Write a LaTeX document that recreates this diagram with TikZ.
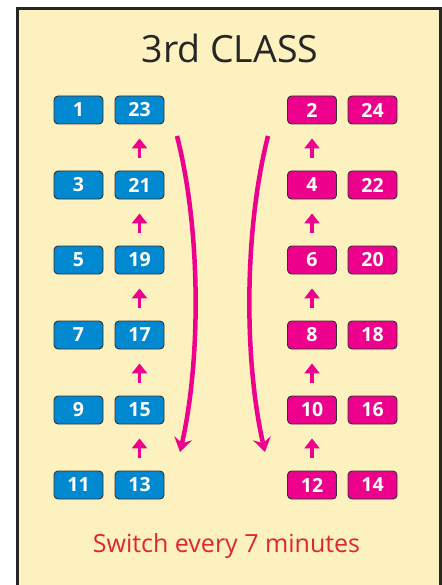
\documentclass[tikz,border=0pt]{standalone}
\usepackage{fontspec}
\setmainfont{Open Sans}
\usepackage{tikz}
\usetikzlibrary{arrows.meta,positioning,calc}
\usepackage{xcolor}
\definecolor{seatblue}{HTML}{0089D0}
\definecolor{seatpink}{HTML}{EC008C}
\definecolor{paper}{HTML}{FEF1C0}
\definecolor{notered}{HTML}{E0262F}

\begin{document}
\begin{tikzpicture}[x=1pt,y=-1pt,
  seat/.style={draw=black!80,line width=0.9pt,rounded corners=4pt,minimum width=49pt,minimum height=28pt,inner sep=0pt,text=white,font=\fontsize{19.5}{19.5}\selectfont\bfseries},
  blueseat/.style={seat,fill=seatblue},
  pinkseat/.style={seat,fill=seatpink},
  uparr/.style={seatpink,line width=3.3pt,-{Triangle[width=15pt,length=10pt]},shorten <=13pt,shorten >=14pt},
  swaparr/.style={seatpink,line width=4.5pt,-{Stealth[width=18pt,length=14pt,inset=5pt]}}]

  \useasboundingbox (0,0) rectangle (441,585);
  \draw[fill=paper,line width=3pt,draw=black!85] (17.7,8.7) rectangle (440.5,600);

  \node[anchor=base,font=\fontsize{37.5}{37.5}\selectfont,text=black!85] (title) at (230,63) {3rd CLASS};

  \foreach \i [evaluate=\i as \y using 110+75*\i,
               evaluate=\i as \lo using int(2*\i+1),
               evaluate=\i as \hi using int(23-2*\i),
               evaluate=\i as \ro using int(2*\i+2),
               evaluate=\i as \rh using int(24-2*\i)] in {0,...,5} {
    \node[blueseat] (la\i) at (78.5,\y) {\lo};
    \node[blueseat] (lb\i) at (139.5,\y) {\hi};
    \node[pinkseat] (ra\i) at (312,\y) {\ro};
    \node[pinkseat] (rb\i) at (372.5,\y) {\rh};
  }

  \foreach \i [evaluate=\i as \j using int(\i-1)] in {1,...,5} {
    \draw[uparr] (lb\i.north) -- (lb\j.south);
    \draw[uparr] (ra\i.north) -- (ra\j.south);
  }

  \coordinate (lstart) at (177,136);
  \coordinate (lend) at (180,452);
  \coordinate (rstart) at (268,136);
  \coordinate (rend) at (265,452);
  \draw[swaparr] (lstart) .. controls (201,230) and (201,360) .. (lend);
  \draw[swaparr] (rstart) .. controls (244,230) and (244,360) .. (rend);

  \node[anchor=base,font=\fontsize{25}{25}\selectfont,text=notered] (note) at (226.5,552) {Switch every 7 minutes};

\end{tikzpicture}
\end{document}
